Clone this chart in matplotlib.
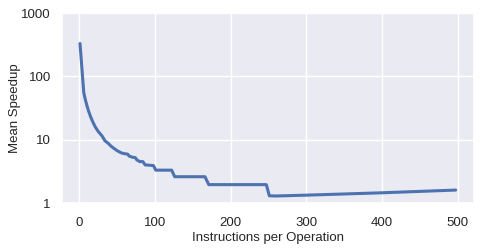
import matplotlib
matplotlib.use("Agg")
import matplotlib.pyplot as plt
import matplotlib.ticker as mticker
import seaborn as sns

# instructions per operation vs mean speedup
instructions = [1, 6, 8, 10, 12, 15, 18, 21, 25, 30, 34, 38, 42, 45, 50, 56,
                60, 64, 66, 70, 74, 76, 80, 84, 87, 98, 101, 122, 126, 166,
                171, 247, 251, 260, 300, 400, 497]
speedup = [330, 55, 43, 35, 29, 23, 19, 16, 13.5, 11.5, 9.6, 8.8, 7.9, 7.4,
           6.7, 6.15, 6.0, 5.9, 5.5, 5.3, 5.2, 4.8, 4.5, 4.5, 4.0, 3.9, 3.3,
           3.3, 2.6, 2.6, 1.95, 1.95, 1.3, 1.29, 1.33, 1.45, 1.6]

sns.set_theme(style="darkgrid")
plt.rcParams['font.family'] = ['Liberation Sans', 'DejaVu Sans']

fig, ax = plt.subplots(figsize=(4.83, 2.5), dpi=100)
fig.subplots_adjust(left=0.128, right=0.981, top=0.948, bottom=0.188)

ax.plot(instructions, speedup, color="#4c72b0", lw=2.2)
ax.set_yscale("log")
ax.set_ylim(1, 1000)
ax.set_xlim(-23, 521)
ax.set_xticks([0, 100, 200, 300, 400, 500])
ax.yaxis.set_major_formatter(mticker.FuncFormatter(lambda v, p: "%d" % v))
ax.yaxis.set_minor_locator(mticker.NullLocator())
ax.tick_params(axis="x", labelsize=9.5, pad=4)
ax.tick_params(axis="y", labelsize=9.5, pad=2)
ax.set_xlabel("Instructions per Operation", fontsize=9.5, labelpad=2)
ax.set_ylabel("Mean Speedup", fontsize=9.5, labelpad=0)

fig.savefig("out.png", dpi=100)
